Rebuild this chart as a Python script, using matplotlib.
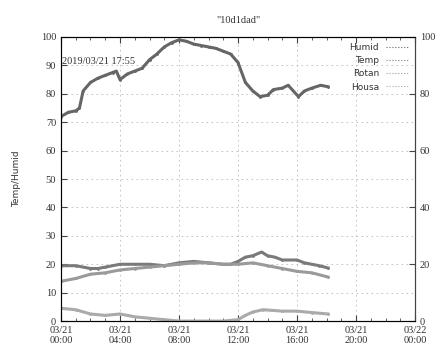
import matplotlib
matplotlib.use("Agg")
import matplotlib.pyplot as plt
from matplotlib.ticker import MultipleLocator

# hours since 03/21 00:00
humid_t = [0, 0.5, 1.0, 1.25, 1.5, 2, 2.5, 3, 3.5, 3.75, 4.0, 4.5, 5, 5.5, 6, 6.5, 7, 7.5, 8,
           8.5, 9, 9.5, 10, 10.5, 11, 11.5, 12, 12.5, 13, 13.5, 14, 14.4, 15, 15.4, 16.1, 16.5, 17,
           17.6, 18.1]
humid = [72, 73.5, 74, 75, 81, 84, 85.5, 86.5, 87.5, 88, 85, 87, 88, 89, 92, 94, 96.5, 98, 99,
         98.5, 97.5, 97, 96.5, 96, 95, 94, 91, 84, 81, 79, 79.5, 81.5, 82, 83, 79, 81, 82,
         83, 82.5]

temp_t = [0, 1, 2, 2.5, 3, 4, 5, 6, 7, 8, 9, 10, 11, 11.5, 12, 12.5, 13, 13.6, 14, 14.5, 15,
          16, 16.5, 17, 17.5, 18.1]
temp = [19.5, 19.5, 18.5, 18.5, 19, 20, 20, 20, 19.5, 20.5, 21, 20.5, 20, 20, 21, 22.5, 23, 24.3,
        23, 22.5, 21.5, 21.5, 20.5, 20, 19.5, 18.7]

rotan_t = [0, 1, 2, 3, 4, 5, 6, 7, 8, 9, 10, 11, 12, 13, 14, 15, 16, 17, 18.1]
rotan = [14, 15, 16.5, 17, 18, 18.5, 19, 19.5, 20, 20.5, 20.5, 20, 20, 20.5, 19.5, 18.5, 17.5, 17,
         15.5]

housa_t = [0, 1, 2, 3, 4, 5, 6, 7, 8, 9, 10, 11, 12, 12.5, 13, 13.7, 15, 16, 17, 18.1]
housa = [4.5, 4, 2.5, 2, 2.5, 1.5, 1, 0.5, 0, 0, 0, 0, 0.5, 2, 3.2, 4, 3.5, 3.5, 3, 2.5]

xticks = [0, 4, 8, 12, 16, 20, 24]
xlabels = ["03/21\n00:00", "03/21\n04:00", "03/21\n08:00", "03/21\n12:00",
           "03/21\n16:00", "03/21\n20:00", "03/22\n00:00"]

txt = "#333333"
serif = "Liberation Serif"

fig = plt.figure(figsize=(4.42, 3.49), dpi=100)
ax = fig.add_axes([0.138, 0.080, 0.801, 0.814])

ax.plot(humid_t, humid, color="#666666", lw=2.2, marker=".", ms=2, label="Humid")
ax.plot(temp_t, temp, color="#7a7a7a", lw=2.2, marker=".", ms=2, label="Temp")
ax.plot(rotan_t, rotan, color="#9a9a9a", lw=2.2, marker=".", ms=2, label="Rotan")
ax.plot(housa_t, housa, color="#aaaaaa", lw=2.2, marker=".", ms=2, label="Housa")

ax.set_xlim(0, 24)
ax.set_ylim(0, 100)
ax.set_xticks(xticks)
ax.set_xticklabels(xlabels, fontfamily=serif, fontsize=7.5, color=txt)
ax.xaxis.set_minor_locator(MultipleLocator(1))
ax.yaxis.set_major_locator(MultipleLocator(10))
for lab in ax.get_yticklabels():
    lab.set_fontfamily(serif)
ax.tick_params(axis="both", which="both", direction="in", top=True, labelsize=7.5,
               colors="#444444", labelcolor=txt)
ax.tick_params(which="major", length=4)
ax.tick_params(which="minor", length=2)
ax.grid(True, which="major", color="#bbbbbb", ls=(0, (2, 4)), lw=0.6)
for s in ax.spines.values():
    s.set_color("#444444")
    s.set_linewidth(0.8)

ax2 = ax.twinx()
ax2.set_ylim(0, 100)
ax2.yaxis.set_major_locator(MultipleLocator(20))
ax2.tick_params(direction="in", length=4, labelsize=7.5, labelcolor=txt, colors="#444444")
for lab in ax2.get_yticklabels():
    lab.set_fontfamily(serif)
ax2.spines["right"].set_color("#444444")

ax.set_ylabel("Temp/Humid", fontsize=6.5, color=txt, labelpad=14)
ax.set_title('"10d1dad"', fontfamily=serif, fontsize=7.5, color=txt, pad=10)
ax.text(0.1, 90.5, "2019/03/21 17:55", fontfamily=serif, fontsize=7.5, color=txt)

leg = ax.legend(loc="upper right", frameon=False, markerfirst=False, fontsize=6.5,
                handlelength=2.5, handletextpad=0.8, labelspacing=0.45,
                borderaxespad=0.3)
for t in leg.get_texts():
    t.set_color(txt)
for h in leg.get_lines():
    h.set_linewidth(0.8)
    h.set_linestyle(":")
    h.set_marker("")

fig.savefig("out.png", dpi=100)
